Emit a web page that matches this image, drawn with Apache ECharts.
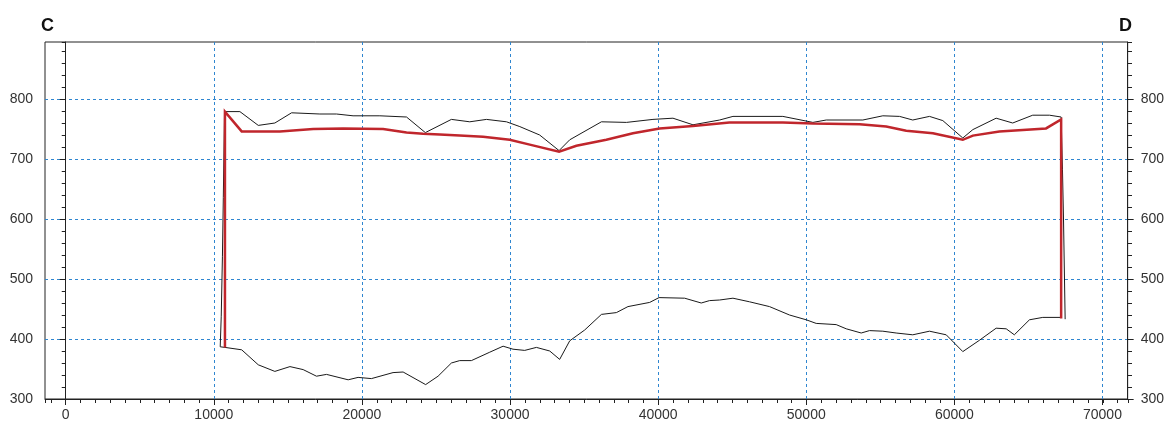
<!DOCTYPE html>
<html>
<head>
<meta charset="utf-8">
<script src="https://cdn.jsdelivr.net/npm/echarts@6/dist/echarts.min.js"></script>
<style>
  html, body { margin: 0; padding: 0; background: #fff; }
  #chart { width: 1167px; height: 424px; }
</style>
</head>
<body>
<div id="chart"></div>
<script>
// ---- Data (distance along section, elevation) ----
const surfaceDist = [10430, 10500, 10580, 10640, 10720, 11760, 13000, 14120, 15250, 17160, 18280, 19400, 21210, 23010, 24280, 26040, 27280, 28410, 29760, 30660, 32000, 33310, 34030, 36170, 37860, 39650, 41000, 42350, 44150, 45050, 48420, 50450, 51350, 53820, 55170, 56300, 57190, 58320, 59220, 60570, 61250, 62820, 63940, 65290, 66420, 67210, 67300, 67370, 67480];
const surfaceElev = [387, 438, 538, 636, 779, 779, 756, 760, 777, 775, 775, 772, 772, 770, 744, 766, 762, 766, 762, 754, 740, 714, 732, 762, 761, 766, 768, 757, 765, 771, 771, 761, 765, 765, 772, 771, 765, 771, 764, 735, 749, 768, 760, 773, 773, 770, 682, 600, 433];

const baseDist = [10430, 10750, 11880, 13000, 14120, 15140, 16030, 16930, 17610, 19070, 19740, 20640, 22100, 22780, 24300, 25140, 26040, 26600, 27390, 28630, 29530, 30200, 30990, 31780, 32680, 33350, 34030, 35040, 36170, 37180, 37960, 39430, 40060, 41790, 42910, 43470, 44150, 45050, 46170, 47520, 48870, 50000, 50670, 52020, 52700, 53710, 54270, 55170, 56070, 57190, 58320, 59450, 60570, 61700, 62820, 63500, 64050, 65070, 65970, 67210];
const baseElev = [387, 386, 382, 357, 346, 354, 349, 338, 341, 332, 336, 334, 344, 345, 324, 338, 360, 364, 364, 378, 388, 383, 381, 386, 380, 366, 397, 415, 441, 444, 454, 461, 469, 468, 460, 464, 465, 468, 462, 454, 440, 432, 426, 424, 417, 410, 414, 413, 410, 407, 413, 407, 379, 398, 418, 417, 407, 432, 436, 436];

const redDist = [10750, 10750, 11880, 14460, 16710, 18730, 21430, 23010, 24130, 25260, 26600, 28180, 29980, 31330, 33310, 34480, 36500, 38300, 40100, 42350, 44810, 48420, 50450, 53600, 55400, 56750, 58550, 60570, 61250, 63040, 66190, 67210, 67210];
const redElev = [386, 779, 746, 746, 750, 751, 750, 744, 742, 741, 739, 737, 732, 724, 712, 722, 732, 743, 751, 755, 761, 761, 759, 758, 754, 747, 743, 732, 739, 746, 751, 766, 434];

const xMin = -1400, xMax = 71700;
const yMin = 300, yMax = 895;
const leftTitle = 'C', rightTitle = 'D';

function pairs(xs, ys) { return xs.map((x, i) => [x, ys[i]]); }

const FONT = "'Liberation Sans', Arial, sans-serif";
function gridLine() {
  return { show: true, lineStyle: { color: '#2f86d0', width: 1, type: [3, 3] }, showMinLine: false, showMaxLine: false };
}
const axisLineStyle = { show: true, lineStyle: { color: '#222', width: 1 } };
const plainNum = v => String(v);
function labelStyle(extra) {
  return Object.assign({ color: '#333', fontSize: 14, fontFamily: FONT, formatter: plainNum }, extra);
}

const chart = echarts.init(document.getElementById('chart'), null, { renderer: 'canvas' });
const gridRect = { left: 45, right: 39, top: 42, bottom: 25 };

chart.setOption({
  animation: false,
  backgroundColor: '#fff',
  grid: [
    Object.assign({ show: true, borderColor: '#222', borderWidth: 1, backgroundColor: 'transparent' }, gridRect),
    Object.assign({ show: false }, gridRect)
  ],
  graphic: [
    { type: 'text', left: 41, top: 17, style: { text: leftTitle, font: "bold 18px " + FONT, fill: '#111' } },
    { type: 'text', left: 1119, top: 17, style: { text: rightTitle, font: "bold 18px " + FONT, fill: '#111' } }
  ],
  xAxis: [
    {
      type: 'value', gridIndex: 0, position: 'bottom', min: xMin, max: xMax,
      minInterval: 10000, maxInterval: 10000, splitNumber: 7,
      axisLine: axisLineStyle,
      axisTick: { show: true, inside: false, length: 6, lineStyle: { color: '#222' } },
      axisLabel: labelStyle({ margin: 9, showMinLabel: false, showMaxLabel: false }),
      splitLine: gridLine()
    },
    {
      type: 'value', gridIndex: 1, position: 'bottom', min: xMin, max: xMax,
      minInterval: 1000, maxInterval: 1000, splitNumber: 73,
      axisLine: { show: false },
      axisTick: { show: true, inside: false, length: 4, lineStyle: { color: '#222' } },
      axisLabel: { show: false },
      splitLine: { show: false }
    }
  ],
  yAxis: [
    {
      type: 'value', gridIndex: 0, position: 'left', min: yMin, max: yMax, interval: 100, z: 1,
      axisLine: axisLineStyle,
      axisTick: { show: true, inside: false, length: 6, lineStyle: { color: '#222' } },
      axisLabel: labelStyle({ margin: 12, showMaxLabel: false }),
      splitLine: gridLine()
    },
    {
      type: 'value', gridIndex: 0, position: 'right', min: yMin, max: yMax, interval: 100, z: 1,
      axisLine: axisLineStyle,
      axisTick: { show: true, inside: false, length: 6, lineStyle: { color: '#222' } },
      axisLabel: labelStyle({ margin: 13, showMaxLabel: false }),
      splitLine: gridLine()
    },
    {
      type: 'value', gridIndex: 1, position: 'left', min: yMin, max: yMax, interval: 20,
      axisLine: { show: false },
      axisTick: { show: true, inside: false, length: 4, lineStyle: { color: '#222' } },
      axisLabel: { show: false },
      splitLine: { show: false }
    },
    {
      type: 'value', gridIndex: 1, position: 'right', min: yMin, max: yMax, interval: 20,
      axisLine: { show: false },
      axisTick: { show: true, inside: false, length: 4, lineStyle: { color: '#222' } },
      axisLabel: { show: false },
      splitLine: { show: false }
    }
  ],
  series: [
    {
      name: 'surface', type: 'line', xAxisIndex: 0, yAxisIndex: 0,
      data: pairs(surfaceDist, surfaceElev), showSymbol: false, symbol: 'none',
      lineStyle: { color: '#1a1a1a', width: 1 }, z: 3
    },
    {
      name: 'base', type: 'line', xAxisIndex: 0, yAxisIndex: 0,
      data: pairs(baseDist, baseElev), showSymbol: false, symbol: 'none',
      lineStyle: { color: '#1a1a1a', width: 1 }, z: 3
    },
    {
      name: 'profile', type: 'line', xAxisIndex: 0, yAxisIndex: 0,
      data: pairs(redDist, redElev), showSymbol: false, symbol: 'none',
      lineStyle: { color: '#c0262c', width: 2.5, join: 'miter' }, z: 4
    }
  ]
});
</script>
</body>
</html>
